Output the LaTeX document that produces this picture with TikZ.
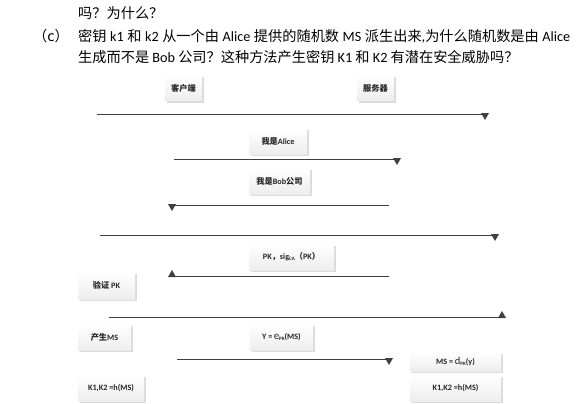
\documentclass[tikz,border=0pt]{standalone}
\usepackage{fontspec}
\setmainfont{Carlito}
\newfontfamily\cjk{Noto Sans CJK SC}
\usetikzlibrary{shadows}
\definecolor{linegray}{HTML}{404040}
\newcommand{\zh}[1]{{\cjk #1}}
\newcommand{\sm}[1]{\raisebox{-0.25ex}{\fontsize{5}{5}\selectfont #1}}

\begin{document}
\begin{tikzpicture}[x=1pt,y=-1pt,
  box/.style={inner sep=0pt, minimum height=26pt, minimum width=#1, top color=white, bottom color=gray!14, drop shadow={shadow xshift=1.6pt, shadow yshift=-1.6pt, fill=gray!28, opacity=1}, font=\fontsize{8.2}{9}\selectfont\bfseries, text=black!85},
  lbl/.style={inner sep=0pt, anchor=base west, font=\fontsize{14.2}{16}\selectfont},
  msg/.style={draw=linegray, line width=0.8pt},
  tipdn/.pic={\fill[linegray] (-4,-1) -- (4,-1) -- (0,6) -- cycle;},
  tipup/.pic={\fill[linegray] (-4,1) -- (4,1) -- (0,-6) -- cycle;}]
\useasboundingbox (0,0) rectangle (576,404);

%question text
\node[lbl] at (78,19) (q1) {\zh{吗？为什么？}};
\node[lbl] at (33,42) (qc) {\zh{（c）}};
\node[lbl] at (78,42) (q2) {\makebox[492pt][s]{\zh{密钥} k1 \zh{和} k2 \zh{从一个由} Alice \zh{提供的随机数} MS \zh{派生出来},\zh{为什么随机数是由} Alice}};
\node[lbl] at (78,63) (q3) {\zh{生成而不是} Bob \zh{公司？这种方法产生密钥} K1 \zh{和} K2 \zh{有潜在安全威胁吗？}};

%client and server
\node[box=37pt] at (183.5,88) (client) {\zh{客户端}};
\node[box=37pt] at (375.5,88) (server) {\zh{服务器}};

%message boxes
\node[box=58pt] at (278,141.5) (alice) {\zh{我是}Alice};
\node[box=61pt] at (279.5,181) (bob) {\zh{我是}Bob\zh{公司}};
\node[box=85pt] at (291.5,257) (pk) {PK\zh{，}sig\sm{CA}\zh{（}PK\zh{）}};
\node[box=57pt, minimum height=27pt] at (106.5,285.5) (verify) {\zh{验证} PK};
\node[box=53pt] at (104.5,337) (genms) {\zh{产生}MS};
\node[box=63pt] at (281.5,337) (enc) {Y =\,{\fontsize{11}{11}\selectfont\mdseries e}\sm{PK}(MS)};
\node[box=91pt, minimum height=19pt] at (455.5,361.5) (dec) {MS = {\fontsize{10.5}{11}\selectfont\mdseries d}\sm{PK}(y)};
\node[box=91pt] at (455.5,388) (kright) {K1,K2 =h(MS)};
\node[box=66pt] at (111,388) (kleft) {K1,K2 =h(MS)};

%message lines
\coordinate (m1a) at (97,114);  \coordinate (m1b) at (485,114);
\coordinate (m2a) at (174,159); \coordinate (m2b) at (397,159);
\coordinate (m3a) at (389,205); \coordinate (m3b) at (172,205);
\coordinate (m4a) at (100,235); \coordinate (m4b) at (495,235);
\coordinate (m5a) at (389,276); \coordinate (m5b) at (172,276);
\coordinate (m6a) at (109,317); \coordinate (m6b) at (502,317);
\coordinate (m7a) at (177,359); \coordinate (m7b) at (389,359);

\draw[msg] (m1a) -- (m1b); \pic at (m1b) {tipdn};
\draw[msg] (m2a) -- (m2b); \pic at (m2b) {tipdn};
\draw[msg] (m3a) -- (m3b); \pic at (m3b) {tipdn};
\draw[msg] (m4a) -- (m4b); \pic at (m4b) {tipdn};
\draw[msg] (m5a) -- (m5b); \pic at (m5b) {tipup};
\draw[msg] (m6a) -- (m6b); \pic at (m6b) {tipup};
\draw[msg] (m7a) -- (m7b); \pic at (m7b) {tipdn};
\end{tikzpicture}
\end{document}
